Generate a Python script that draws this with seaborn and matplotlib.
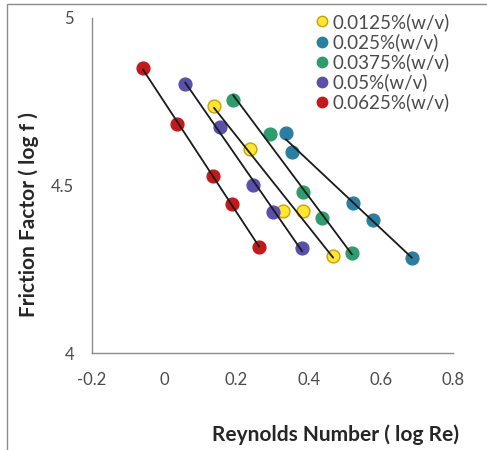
import numpy as np
import pandas as pd
import matplotlib
matplotlib.use("Agg")
import matplotlib.pyplot as plt
import seaborn as sns
from matplotlib.patches import Rectangle

series_names = ["0.0125%(w/v)", "0.025%(w/v)", "0.0375%(w/v)", "0.05%(w/v)", "0.0625%(w/v)"]

x_00125 = [0.138, 0.238, 0.329, 0.384, 0.468]
y_00125 = [4.737, 4.609, 4.424, 4.424, 4.290]
x_0025 = [0.337, 0.354, 0.523, 0.578, 0.686]
y_0025 = [4.657, 4.600, 4.448, 4.397, 4.284]
x_00375 = [0.191, 0.293, 0.384, 0.437, 0.520]
y_00375 = [4.755, 4.654, 4.481, 4.403, 4.299]
x_005 = [0.058, 0.155, 0.246, 0.301, 0.382]
y_005 = [4.803, 4.675, 4.501, 4.421, 4.313]
x_00625 = [-0.059, 0.035, 0.135, 0.188, 0.263]
y_00625 = [4.851, 4.684, 4.528, 4.445, 4.316]

x_ticks = [-0.2, 0, 0.2, 0.4, 0.6, 0.8]
x_ticklabels = ["-0.2", "0", "0.2", "0.4", "0.6", "0.8"]
y_ticks = [4, 4.5, 5]
y_ticklabels = ["4", "4.5", "5"]

fills = ["#FFE633", "#2C7EA0", "#2E9C6C", "#5A50AA", "#C21A1C"]
edges = ["#C9A100", "#2C7EA0", "#2E9C6C", "#5A50AA", "#C21A1C"]

xs = [x_00125, x_0025, x_00375, x_005, x_00625]
ys = [y_00125, y_0025, y_00375, y_005, y_00625]

frames = []
for name, xv, yv in zip(series_names, xs, ys):
    frames.append(pd.DataFrame({"x": xv, "y": yv, "series": name}))
df = pd.concat(frames, ignore_index=True)

sns.set_theme(style="white")
plt.rcParams["font.family"] = ["Lato", "DejaVu Sans"]

fig = plt.figure(figsize=(4.87, 4.50), dpi=100)
ax = fig.add_axes([92/487, 1-353/450, (453-92)/487, (353-18)/450])

for name, fc, ec in zip(series_names, fills, edges):
    sub = df[df["series"] == name]
    sns.scatterplot(data=sub, x="x", y="y", ax=ax, color=fc, edgecolor=ec,
                    linewidth=1.0, s=85, zorder=2, legend=False)
    sns.regplot(data=sub, x="x", y="y", ax=ax, scatter=False, ci=None,
                truncate=True, line_kws=dict(color="#1a1a1a", lw=1.3, zorder=3))

ax.set_xlim(-0.2, 0.8)
ax.set_ylim(4, 5)
ax.set_xticks(x_ticks)
ax.set_xticklabels(x_ticklabels)
ax.set_yticks(y_ticks)
ax.set_yticklabels(y_ticklabels)
ax.set_xlabel("")
ax.set_ylabel("")

for side in ["top", "right"]:
    ax.spines[side].set_visible(False)
for side in ["left", "bottom"]:
    ax.spines[side].set_color("#8c8c8c")
    ax.spines[side].set_linewidth(1.0)
ax.tick_params(axis="both", which="major", direction="out", length=5, width=1.0,
               color="#8c8c8c", labelsize=12, labelcolor="#4a4a4a")
ax.tick_params(axis="x", pad=9)
ax.tick_params(axis="y", pad=8)

handles = [plt.Line2D([], [], marker="o", linestyle="", markersize=7.5,
                      markerfacecolor=fc, markeredgecolor=ec, markeredgewidth=1.0)
           for fc, ec in zip(fills, edges)]
fig.legend(handles, series_names, loc="upper left",
           bbox_to_anchor=(313/487, 1-13/450), frameon=False, fontsize=13.5,
           handletextpad=0.05, labelspacing=0.12, borderaxespad=0, handlelength=1.0,
           borderpad=0, labelcolor="#4a4a4a")

fig.text(29/487, 1-215/450, "Friction Factor ( log f )", rotation=90,
         ha="center", va="center", fontsize=15, fontweight="bold", color="#262626")
fig.text(335/487, 1-435/450, "Reynolds Number ( log Re)", ha="center", va="center",
         fontsize=15, fontweight="bold", color="#262626")

fig.patches.append(Rectangle((7/487, -0.1), 1.2, 1.1 - 4/450,
                             transform=fig.transFigure, fill=False,
                             edgecolor="#8c8c8c", linewidth=1.0))

fig.savefig("out.png", dpi=100)
